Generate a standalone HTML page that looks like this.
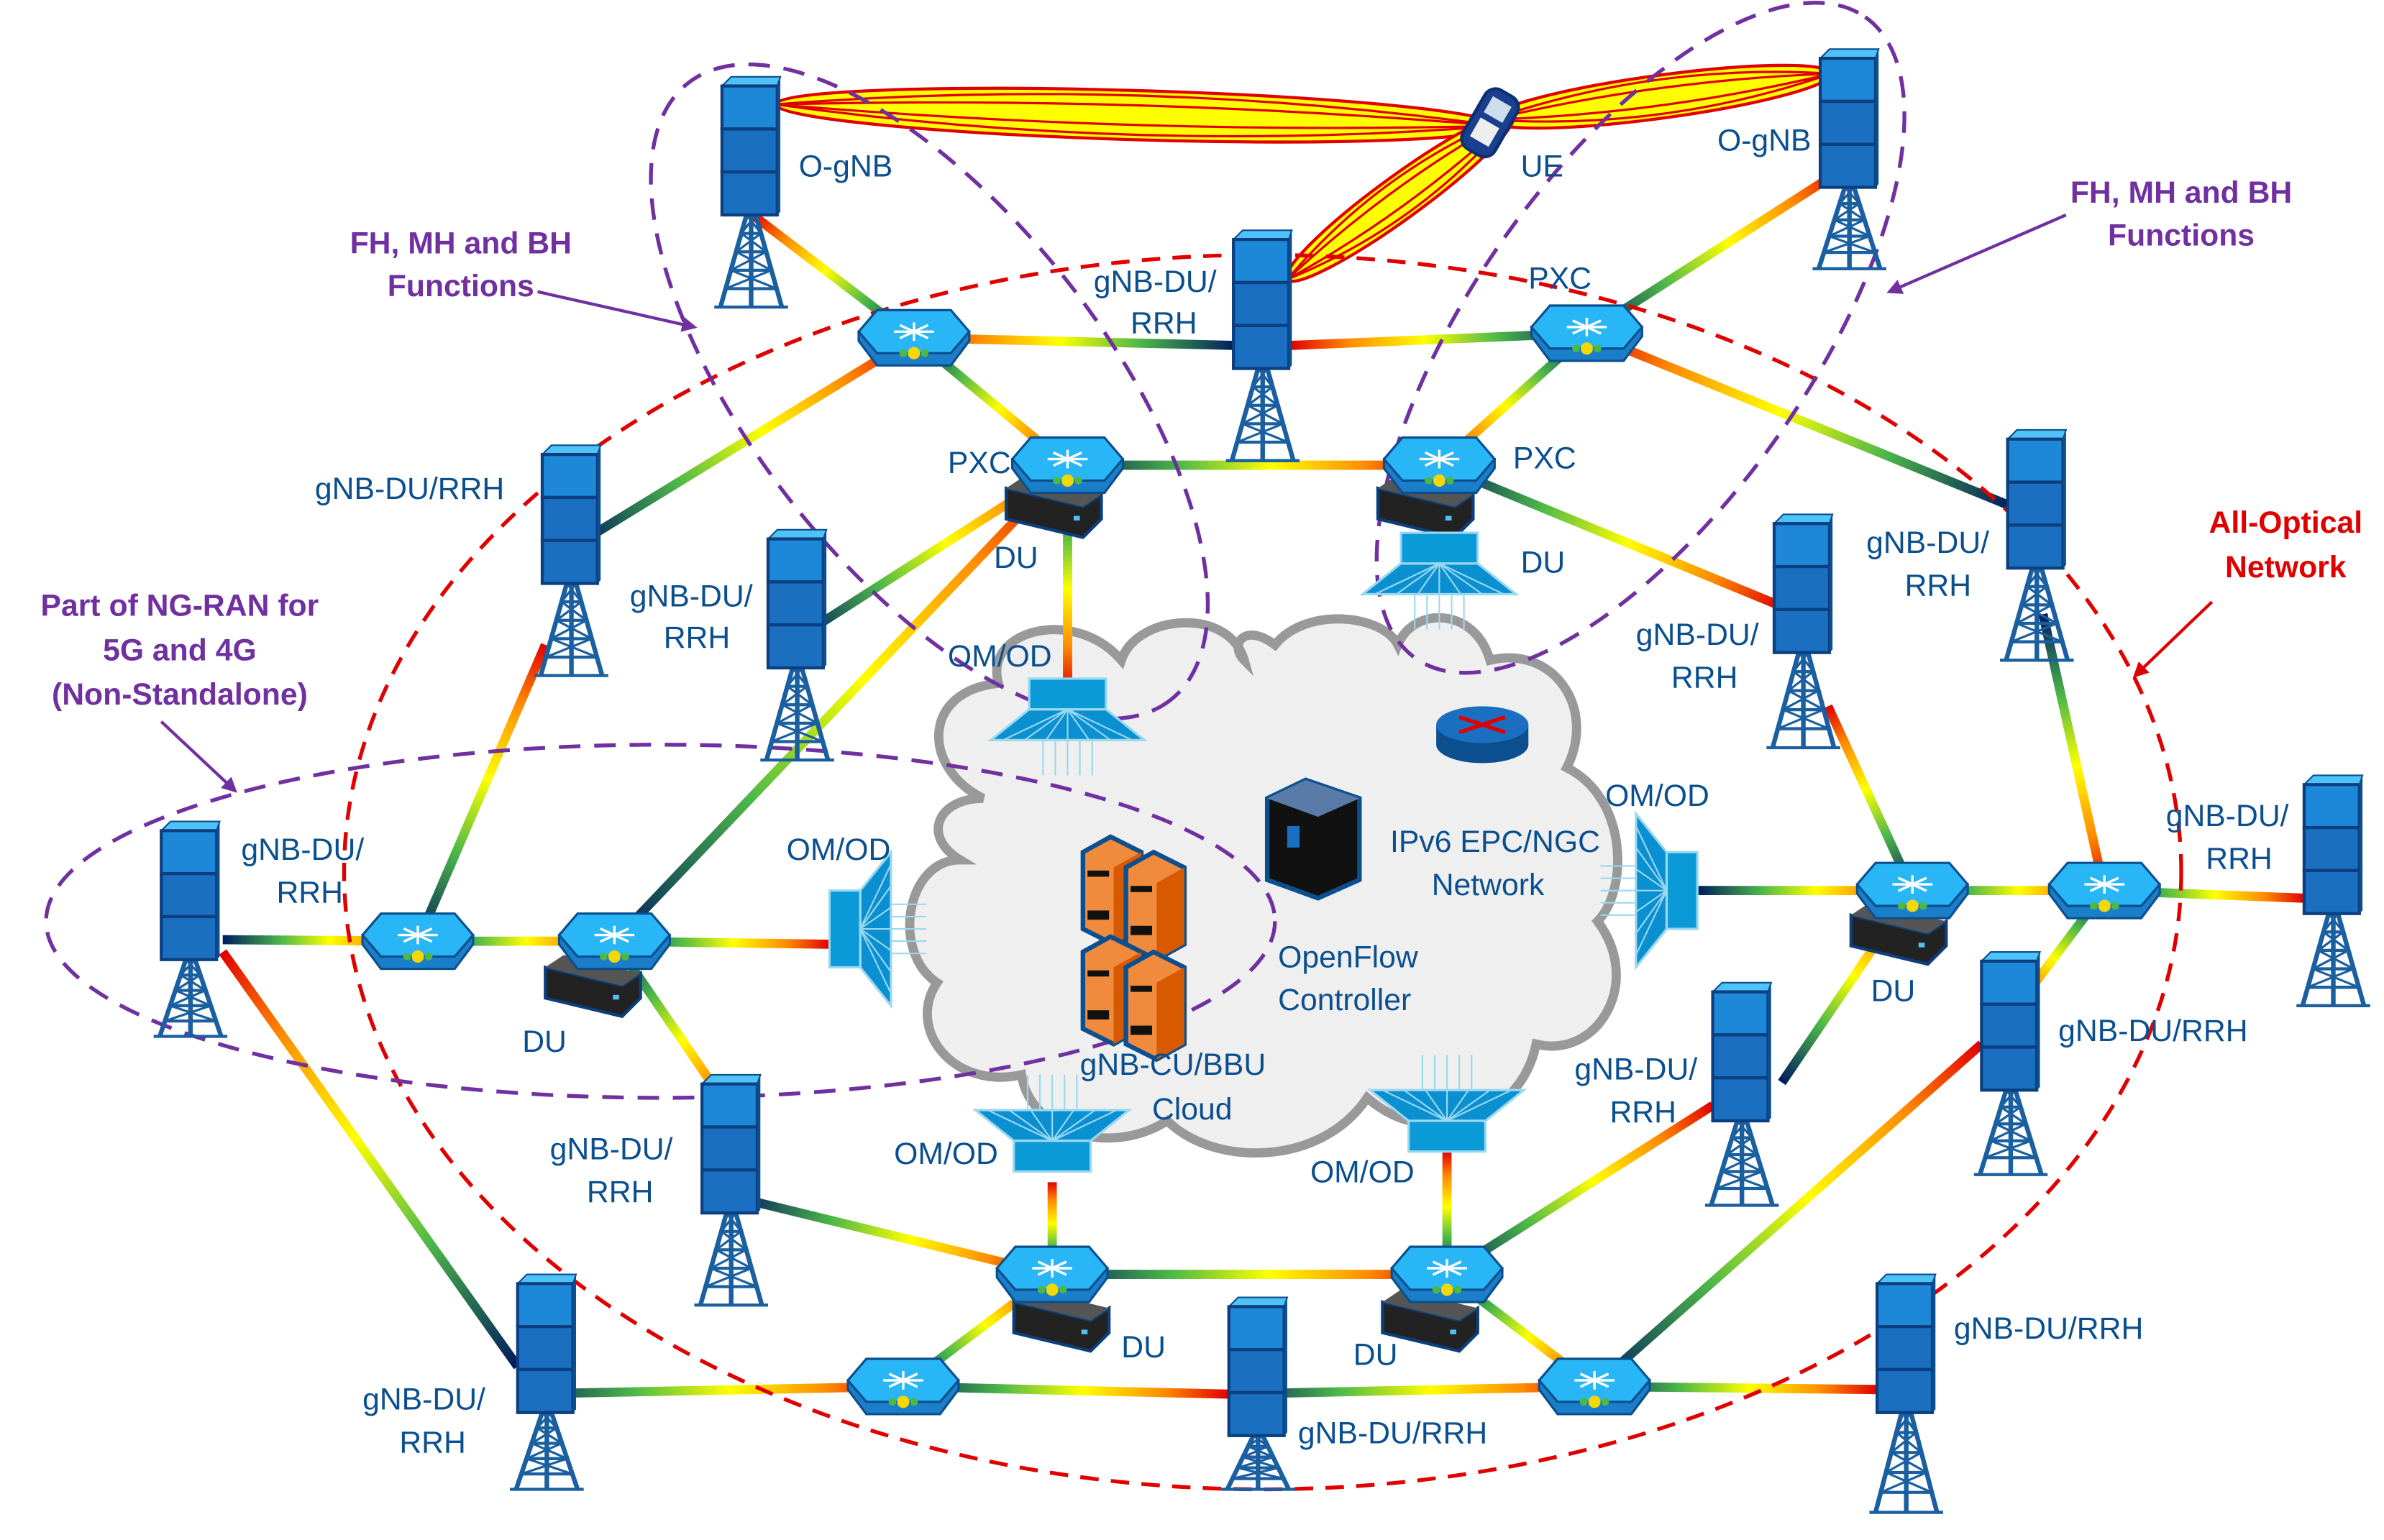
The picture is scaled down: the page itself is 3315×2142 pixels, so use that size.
<!DOCTYPE html>
<html><head><meta charset="utf-8"><style>
html,body{margin:0;padding:0;background:#fff;overflow:hidden}
svg{display:block}
text{font-family:"Liberation Sans",sans-serif}
</style></head><body>
<svg id="s" xmlns="http://www.w3.org/2000/svg" width="3315" height="2142" viewBox="0 0 1552 1003" preserveAspectRatio="none">
<defs>
<marker id="ap" markerWidth="10" markerHeight="10" refX="8" refY="5" orient="auto" markerUnits="userSpaceOnUse"><path d="M0,0 L10,5 L0,10 z" fill="#7030a0"/></marker>
<marker id="ar" markerWidth="10" markerHeight="10" refX="8" refY="5" orient="auto" markerUnits="userSpaceOnUse"><path d="M0,0 L10,5 L0,10 z" fill="#e00000"/></marker>
</defs>
<rect width="1552" height="1003" fill="#fff"/>
<g id="cloud"></g>
<g id="links"></g>
<g id="beams"></g>
<g id="ell"></g>
<g id="nodes"></g>
<g id="labels"></g>
</svg>
<script>
const NS="http://www.w3.org/2000/svg";
const s=document.getElementById('s');
function el(tag,attrs,parent,txt){const e=document.createElementNS(NS,tag);for(const k in attrs)e.setAttribute(k,attrs[k]);if(txt!==undefined)e.textContent=txt;(parent||s).appendChild(e);return e;}
const defs=s.querySelector('defs');
const G=id=>document.getElementById(id);

const cp="M640,520 C600,500 600,450 650,445 C640,410 700,395 730,430 C740,400 800,395 810,430 C800,420 810,405 830,420 C850,395 900,400 910,420 C920,395 960,395 970,430 C1010,420 1040,460 1020,500 C1060,520 1060,580 1040,600 C1070,640 1040,690 1000,680 C990,730 930,750 890,715 C860,760 790,760 760,730 C720,755 670,735 665,700 C620,710 590,670 610,640 C580,620 590,560 625,560 C600,545 610,520 640,520 Z";
el('path',{d:cp,fill:'#efefef',stroke:'#999',"stroke-width":6},G('cloud'));

let gi=0;
function link(x1,y1,x2,y2){
 const id='g'+(gi++);
 const lg=el('linearGradient',{id:id,gradientUnits:'userSpaceOnUse',x1:x1,y1:y1,x2:x2,y2:y2},defs);
 [[0,'#001a5e'],[0.3,'#4cb848'],[0.55,'#ffff00'],[0.8,'#ff8c00'],[1,'#e00000']].forEach(a=>el('stop',{offset:a[0],'stop-color':a[1]},lg));
 el('line',{x1:x1,y1:y1,x2:x2,y2:y2,stroke:'url(#'+id+')','stroke-width':6},G('links'));
}
const L=[
[595,220,490,140],[805,225,595,220],[1033,217,840,225],[1033,217,1200,110],[1310,330,1033,217],
[595,220,695,303],[1033,217,937,303],[375,355,595,220],[695,303,937,303],[520,415,695,303],
[695,303,695,450],[937,303,937,355],[937,303,1160,395],[400,613,695,303],[272,613,355,420],
[145,612,272,613],[272,613,400,613],[400,613,540,615],[400,613,480,730],[337,890,145,620],
[337,908,588,903],[588,903,800,908],[800,908,1038,903],[1038,903,1222,905],[588,903,685,830],
[685,830,942,830],[685,830,685,770],[942,830,942,750],[480,780,685,830],[942,830,1115,720],
[942,830,1038,903],[1038,903,1290,680],[1245,580,1190,460],[1160,705,1245,580],[1105,580,1245,580],
[1245,580,1370,580],[1370,580,1500,585],[1330,400,1370,580],[1370,580,1310,660]];
L.forEach(a=>link(...a));

const B=G('beams');
function beam(x1,y1,x2,y2,w){
 const cx=(x1+x2)/2,cy=(y1+y2)/2,len=Math.hypot(x2-x1,y2-y1),ang=Math.atan2(y2-y1,x2-x1)*180/Math.PI;
 const g=el('g',{transform:`translate(${cx},${cy}) rotate(${ang})`},B);
 el('ellipse',{cx:0,cy:0,rx:len/2,ry:w,fill:'#ffff00',stroke:'#e00000','stroke-width':2},g);
 for(let i=-2;i<=2;i++){ if(i==0)continue; el('path',{d:`M${-len/2},0 Q0,${i*w*0.8} ${len/2},0`,fill:'none',stroke:'#e00000','stroke-width':1.5},g);}
}
beam(505,68,975,82,16);
beam(970,78,1192,48,14);
beam(838,182,985,75,14);

const E=G('ell');
el('ellipse',{cx:822,cy:568,rx:598,ry:402,fill:'none',stroke:'#e00000','stroke-width':2.5,'stroke-dasharray':'12 8'},E);
el('ellipse',{cx:0,cy:0,rx:255,ry:115,fill:'none',stroke:'#7030a0','stroke-width':2.5,'stroke-dasharray':'14 9',transform:'translate(605,255) rotate(52)'},E);
el('ellipse',{cx:0,cy:0,rx:255,ry:110,fill:'none',stroke:'#7030a0','stroke-width':2.5,'stroke-dasharray':'14 9',transform:'translate(1068,220) rotate(-55)'},E);
el('ellipse',{cx:430,cy:600,rx:400,ry:115,fill:'none',stroke:'#7030a0','stroke-width':2.5,'stroke-dasharray':'14 9'},E);
el('line',{x1:350,y1:190,x2:452,y2:213,stroke:'#7030a0','stroke-width':2,'marker-end':'url(#ap)'},E);
el('line',{x1:1345,y1:140,x2:1230,y2:190,stroke:'#7030a0','stroke-width':2,'marker-end':'url(#ap)'},E);
el('line',{x1:105,y1:470,x2:153,y2:515,stroke:'#7030a0','stroke-width':2,'marker-end':'url(#ap)'},E);
el('line',{x1:1440,y1:392,x2:1390,y2:440,stroke:'#e00000','stroke-width':2,'marker-end':'url(#ar)'},E);

const N=G('nodes');
function tower(x,y,bot){
 const w=38,bh=90,cx=x+w/2,top=y+bh;
 const g=el('g',{},N);
 el('path',{d:`M${cx-3},${top} L${cx-20},${bot} M${cx+3},${top} L${cx+20},${bot} M${cx},${top} L${cx},${bot}`,stroke:'#1a5fa0','stroke-width':3,fill:'none'},g);
 for(let i=1;i<5;i++){const yy=top+(bot-top)*i/5,ww=3+17*i/5;el('line',{x1:cx-ww,y1:yy,x2:cx+ww,y2:yy,stroke:'#1a5fa0','stroke-width':2},g);
 const y0=top+(bot-top)*(i-1)/5,w0=3+17*(i-1)/5;el('path',{d:`M${cx-w0},${y0} L${cx+ww},${yy} M${cx+w0},${y0} L${cx-ww},${yy}`,stroke:'#1a5fa0','stroke-width':1.5,fill:'none'},g);}
 el('line',{x1:cx-24,y1:bot,x2:cx+24,y2:bot,stroke:'#1a5fa0','stroke-width':2},g);
 el('path',{d:`M${x},${y+6} L${x+6},${y} L${x+w},${y} L${x+w-2},${y+6} Z`,fill:'#4fc3f7',stroke:'#0b4f8f','stroke-width':1},g);
 for(let i=0;i<3;i++){el('rect',{x:x,y:y+6+i*28,width:w-2,height:28,fill:i==0?'#1e88d8':'#1a6fc0',stroke:'#0b3f7f','stroke-width':2},g);}
 el('path',{d:`M${x+w-2},${y+6} L${x+w},${y} L${x+w},${y+88} L${x+w-2},${y+90} Z`,fill:'#0b4f8f'},g);
}
[[470,50,200],[803,150,300],[1185,32,175],[353,290,440],[500,345,495],[105,535,675],[1307,280,430],[1155,335,487],[1500,505,655],[1290,620,765],[1115,640,785],[457,700,850],[337,830,970],[800,845,970],[1222,830,985]].forEach(a=>tower(...a));

function du(x,y){
 const g=el('g',{},N);
 el('path',{d:`M${x},${y} L${x+50},${y+12} L${x+62},${y+4} L${x+62},${y+20} L${x+50},${y+32} L${x},${y+20} Z`,fill:'#222',stroke:'#0b3f7f','stroke-width':2},g);
 el('path',{d:`M${x},${y} L${x+12},${y-8} L${x+62},${y+4} L${x+50},${y+12} Z`,fill:'#555'},g);
 el('rect',{x:x+44,y:y+18,width:4,height:3,fill:'#4fc3f7'},g);
}
[[655,318],[897,318],[355,630],[1205,596],[660,848],[900,848]].forEach(a=>du(...a));

function pxc(cx,cy){
 const g=el('g',{},N);
 el('path',{d:`M${cx-36},${cy+2} L${cx-24},${cy+18} L${cx+24},${cy+18} L${cx+36},${cy+2} L${cx+36},${cy-4} L${cx-36},${cy-4} Z`,fill:'#1a7fc8',stroke:'#0b4f8f','stroke-width':1.5},g);
 el('path',{d:`M${cx-36},${cy-4} L${cx-24},${cy-18} L${cx+24},${cy-18} L${cx+36},${cy-4} L${cx+24},${cy+10} L${cx-24},${cy+10} Z`,fill:'#29b6f6',stroke:'#0b4f8f','stroke-width':1.5},g);
 for(let a=0;a<4;a++){const t=a*Math.PI/4;el('line',{x1:cx-13*Math.cos(t),y1:cy-4-6*Math.sin(t),x2:cx+13*Math.cos(t),y2:cy-4+6*Math.sin(t),stroke:'#fff','stroke-width':1.6},g);}
 el('circle',{cx:cx,cy:cy+10,r:4,fill:'#f5d800'},g);
 el('circle',{cx:cx-7,cy:cy+10,r:2.5,fill:'#4cb848'},g);el('circle',{cx:cx+7,cy:cy+10,r:2.5,fill:'#4cb848'},g);
}
[[595,220],[1033,217],[695,303],[937,303],[272,613],[400,613],[1245,580],[1370,580],[685,830],[942,830],[588,903],[1038,903]].forEach(a=>pxc(...a));

function omod(cx,cy,rot){
 const g=el('g',{transform:`translate(${cx},${cy}) rotate(${rot})`},N);
 for(let i=-2;i<=2;i++)el('line',{x1:i*8,y1:-35,x2:i*8,y2:-12,stroke:'#9ad8f0','stroke-width':1},g);
 el('path',{d:'M-50,-12 L50,-12 L25,8 L-25,8 Z',fill:'#0a8fd0',stroke:'#9ad8f0','stroke-width':1.5},g);
 for(let i=-3;i<=3;i++)el('line',{x1:i*14,y1:-12,x2:0,y2:8,stroke:'#9ad8f0','stroke-width':1},g);
 el('rect',{x:-25,y:8,width:50,height:20,fill:'#0a9ad8',stroke:'#9ad8f0','stroke-width':1.5},g);
}
omod(685,735,0);omod(942,722,0);omod(695,470,180);omod(937,375,180);omod(568,605,90);omod(1077,580,-90);

function server(x,y){
 const g=el('g',{},N);
 el('path',{d:`M${x},${y+10} L${x+18},${y} L${x+38},${y+10} L${x+38},${y+60} L${x+20},${y+70} L${x},${y+60} Z`,fill:'#f08a3c',stroke:'#0b4f8f','stroke-width':3},g);
 el('path',{d:`M${x+20},${y+20} L${x+38},${y+10} L${x+38},${y+60} L${x+20},${y+70} Z`,fill:'#d85a00'},g);
 el('rect',{x:x+3,y:y+22,width:14,height:4,fill:'#111'},g);el('rect',{x:x+3,y:y+48,width:14,height:6,fill:'#111'},g);
}
server(705,545);server(733,555);server(705,610);server(733,620);
const g2=el('g',{},N);
el('path',{d:'M825,520 L850,508 L885,520 L885,573 L858,585 L825,573 Z',fill:'#111',stroke:'#0b4f8f','stroke-width':3},g2);
el('path',{d:'M825,520 L850,508 L885,520 L858,532 Z',fill:'#5a7aa8'},g2);
el('rect',{x:838,y:538,width:8,height:14,fill:'#1a6fc0'},g2);
el('ellipse',{cx:965,cy:485,rx:30,ry:12,fill:'#0b4f8f'},N);
el('rect',{x:935,y:472,width:60,height:13,fill:'#0b4f8f'},N);
el('ellipse',{cx:965,cy:472,rx:30,ry:12,fill:'#1a6fc0'},N);
el('path',{d:'M950,467 L980,477 M950,477 L980,467',stroke:'#e00000','stroke-width':2.5},N);
el('g',{transform:'translate(970,80) rotate(30)'},N).innerHTML='<rect x="-12" y="-22" width="24" height="44" rx="8" fill="#1a3f8f" stroke="#0b2f6f" stroke-width="2"/><rect x="-7" y="-16" width="14" height="12" fill="#cde"/><rect x="-7" y="0" width="14" height="14" fill="#eee"/>';

const T=G('labels');
function t(x,y,str,opt){opt=opt||{};el('text',{x:x,y:y,'font-size':opt.s||20,fill:opt.c||'#0b4f8f','font-weight':opt.b?'bold':'normal','text-anchor':opt.a||'start'},T,str);}
t(520,115,'O-gNB');t(1118,98,'O-gNB');t(990,115,'UE');
t(712,190,'gNB-DU/');t(736,217,'RRH');
t(995,188,'PXC');t(617,308,'PXC');t(985,305,'PXC');
t(205,325,'gNB-DU/RRH');t(410,395,'gNB-DU/');t(432,422,'RRH');
t(647,370,'DU');t(990,373,'DU');t(340,685,'DU');t(1218,652,'DU');t(730,884,'DU');t(881,889,'DU');
t(617,434,'OM/OD');t(512,560,'OM/OD');t(1045,525,'OM/OD');t(582,758,'OM/OD');t(853,770,'OM/OD');
t(905,555,'IPv6 EPC/NGC');t(932,583,'Network');
t(832,630,'OpenFlow');t(832,658,'Controller');
t(703,700,'gNB-CU/BBU');t(750,729,'Cloud');
t(1215,360,'gNB-DU/');t(1240,388,'RRH');
t(1065,420,'gNB-DU/');t(1088,448,'RRH');
t(1410,538,'gNB-DU/');t(1436,566,'RRH');
t(1340,678,'gNB-DU/RRH');
t(1025,703,'gNB-DU/');t(1048,731,'RRH');
t(157,560,'gNB-DU/');t(180,588,'RRH');
t(358,755,'gNB-DU/');t(382,783,'RRH');
t(236,918,'gNB-DU/');t(260,946,'RRH');
t(845,940,'gNB-DU/RRH');t(1272,872,'gNB-DU/RRH');
t(300,165,'FH, MH and BH',{c:'#7030a0',b:1,a:'middle'});t(300,193,'Functions',{c:'#7030a0',b:1,a:'middle'});
t(1420,132,'FH, MH and BH',{c:'#7030a0',b:1,a:'middle'});t(1420,160,'Functions',{c:'#7030a0',b:1,a:'middle'});
t(117,401,'Part of NG-RAN for',{c:'#7030a0',b:1,a:'middle'});t(117,430,'5G and 4G',{c:'#7030a0',b:1,a:'middle'});t(117,459,'(Non-Standalone)',{c:'#7030a0',b:1,a:'middle'});
t(1488,347,'All-Optical',{c:'#e00000',b:1,a:'middle'});t(1488,376,'Network',{c:'#e00000',b:1,a:'middle'});
</script>
</body></html>
